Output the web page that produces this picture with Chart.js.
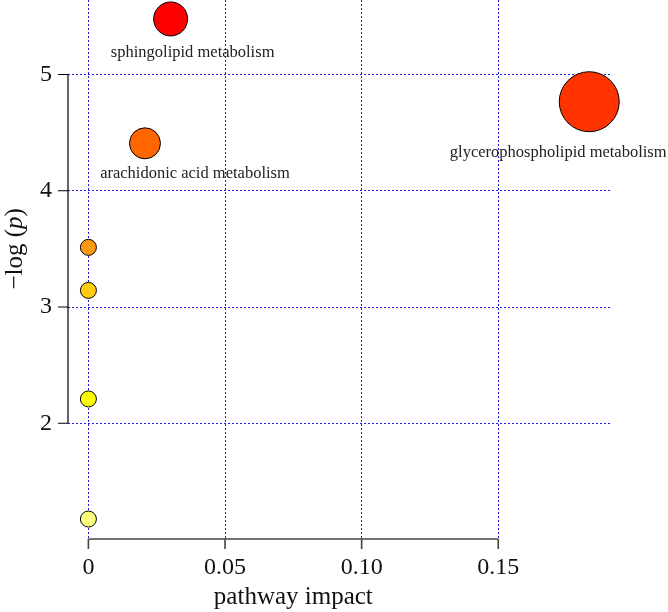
<!DOCTYPE html>
<html>
<head>
<meta charset="utf-8">
<script src="https://cdn.jsdelivr.net/npm/chart.js@4"></script>
<style>
  body { margin: 0; background: #fff; }
</style>
</head>
<body>
<canvas id="chart" width="668" height="612"></canvas>
<script>
// pathway analysis data
const pathways = ["glycerophospholipid metabolism", "sphingolipid metabolism", "arachidonic acid metabolism", "", "", "", ""];
const impact = [0.1833, 0.0301, 0.0207, 0, 0, 0, 0];
const logP = [4.766, 5.478, 4.408, 3.513, 3.143, 2.209, 1.176];
const bubbleSize = [30, 17, 15.5, 8, 8, 8, 8];
const colors = ["#FF3300", "#FF0000", "#FF6600", "#FF9911", "#FFCC11", "#FFFF00", "#FFFF80"];
const xTicks = [0, 0.05, 0.10, 0.15];
const xTickLabels = ["0", "0.05", "0.10", "0.15"];
const yTicks = [2, 3, 4, 5];

// label placement (pixel offset from the bubble centre to text baseline)
const labelOffset = [[-31, 55], [22, 38], [50, 34.5]];

const serif = "'Liberation Serif', 'Times New Roman', serif";

const rAxes = {
  id: 'rAxes',
  afterDraw(chart) {
    const ctx = chart.ctx;
    const xs = chart.scales.x, ys = chart.scales.y;
    const left = chart.chartArea.left, bottom = chart.chartArea.bottom;
    ctx.save();
    // y axis
    ctx.strokeStyle = '#000';
    ctx.lineWidth = 1.2;
    ctx.beginPath();
    ctx.moveTo(left, ys.getPixelForValue(yTicks[0]));
    ctx.lineTo(left, ys.getPixelForValue(yTicks[yTicks.length - 1]));
    yTicks.forEach(v => {
      const y = ys.getPixelForValue(v);
      ctx.moveTo(left - 10, y);
      ctx.lineTo(left, y);
    });
    ctx.stroke();
    // x axis
    ctx.strokeStyle = '#444';
    ctx.lineWidth = 1.6;
    ctx.beginPath();
    ctx.moveTo(xs.getPixelForValue(xTicks[0]), bottom);
    ctx.lineTo(xs.getPixelForValue(xTicks[xTicks.length - 1]), bottom);
    xTicks.forEach(v => {
      const x = xs.getPixelForValue(v);
      ctx.moveTo(x, bottom);
      ctx.lineTo(x, bottom + 10);
    });
    ctx.stroke();

    // axis titles
    ctx.fillStyle = '#111';
    ctx.font = '25px ' + serif;
    ctx.textAlign = 'center';
    ctx.textBaseline = 'alphabetic';
    const xc = (xs.getPixelForValue(xTicks[0]) + xs.getPixelForValue(xTicks[xTicks.length - 1])) / 2;
    ctx.fillText('pathway impact', xc, 604);

    const yc = (ys.getPixelForValue(yTicks[0]) + ys.getPixelForValue(yTicks[yTicks.length - 1])) / 2;
    ctx.translate(22, yc);
    ctx.rotate(-Math.PI / 2);
    const a = '\u2212log (', b = 'p', c = ')';
    ctx.font = '25px ' + serif;
    const wa = ctx.measureText(a).width, wc = ctx.measureText(c).width;
    ctx.font = 'italic 25px ' + serif;
    const wb = ctx.measureText(b).width;
    let x0 = -(wa + wb + wc) / 2;
    ctx.textAlign = 'left';
    ctx.font = '25px ' + serif;
    ctx.fillText(a, x0, 0);
    ctx.font = 'italic 25px ' + serif;
    ctx.fillText(b, x0 + wa, 0);
    ctx.font = '25px ' + serif;
    ctx.fillText(c, x0 + wa + wb, 0);
    ctx.restore();

    // pathway labels
    ctx.save();
    ctx.fillStyle = '#222';
    ctx.font = '16.5px ' + serif;
    ctx.textAlign = 'center';
    ctx.textBaseline = 'alphabetic';
    const meta = chart.getDatasetMeta(0);
    pathways.forEach((name, i) => {
      if (!name) return;
      const p = meta.data[i];
      ctx.fillText(name, p.x + labelOffset[i][0], p.y + labelOffset[i][1]);
    });
    ctx.restore();
  }
};

new Chart(document.getElementById('chart'), {
  type: 'bubble',
  data: {
    datasets: [{
      data: impact.map((v, i) => ({ x: v, y: logP[i], r: bubbleSize[i] })),
      backgroundColor: colors,
      borderColor: '#000',
      borderWidth: 1,
      clip: false
    }]
  },
  options: {
    responsive: false,
    animation: false,
    layout: { autoPadding: false, padding: { top: 0, right: 58, left: 0, bottom: 0 } },
    plugins: { legend: { display: false }, tooltip: { enabled: false } },
    scales: {
      x: {
        type: 'linear',
        min: -0.00747,
        max: 0.1909,
        afterBuildTicks: s => { s.ticks = xTicks.map(v => ({ value: v })); },
        afterFit: s => { s.height = 73; s.paddingLeft = 0; s.paddingRight = 0; },
        ticks: {
          callback: (v, i) => xTickLabels[i],
          font: { family: serif, size: 24 },
          color: '#111',
          padding: 14,
          maxRotation: 0
        },
        grid: { color: '#1a1ae0', lineWidth: 1, drawTicks: false },
        border: { display: false, dash: [2, 2] }
      },
      y: {
        type: 'linear',
        min: 1.0043,
        max: 5.641,
        afterBuildTicks: s => { s.ticks = yTicks.map(v => ({ value: v })); },
        afterFit: s => { s.width = 68; s.paddingTop = 0; s.paddingBottom = 0; },
        ticks: {
          font: { family: serif, size: 24 },
          color: '#111',
          padding: 16
        },
        grid: { color: '#1a1ae0', lineWidth: 1, drawTicks: false },
        border: { display: false, dash: [2, 2] }
      }
    }
  },
  plugins: [rAxes]
});
</script>
</body>
</html>
